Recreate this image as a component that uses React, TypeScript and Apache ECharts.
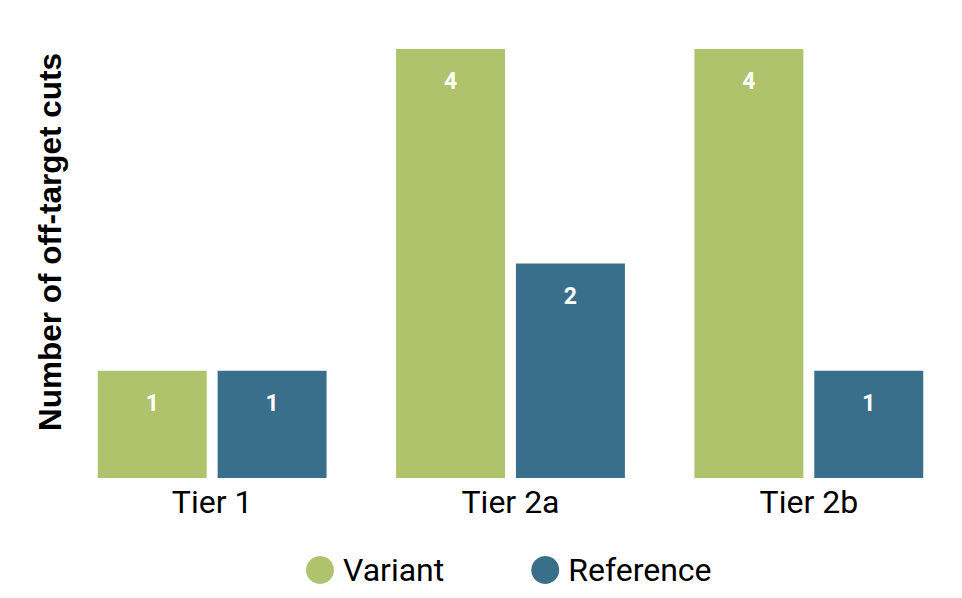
import React, { useEffect, useRef } from "react";
import * as echarts from "echarts";

const categories = ["Tier 1", "Tier 2a", "Tier 2b"];
const variantValues = [1, 4, 4];
const referenceValues = [1, 2, 1];
const seriesNames = ["Variant", "Reference"];
const yAxisTitle = "Number of off-target cuts";

const GREEN = "#AFC36D";
const BLUE = "#3A6F8C";

export default function App() {
  const ref = useRef<HTMLDivElement>(null);
  useEffect(() => {
    if (!ref.current) return;
    const chart = echarts.init(ref.current, null, { renderer: "svg" });
    const labelStyle = {
      show: true,
      position: "insideTop",
      distance: 21,
      color: "#ffffff",
      fontFamily: "Roboto",
      fontWeight: "bold",
      fontSize: 23,
    };
    chart.setOption({
      animation: false,
      backgroundColor: "#ffffff",
      grid: { left: 63, right: 4, top: 49, bottom: 120, containLabel: false },
      legend: {
        data: seriesNames,
        left: 306,
        top: 554,
        padding: 0,
        icon: "circle",
        itemWidth: 28,
        itemHeight: 28,
        itemGap: 87,
        textStyle: { fontFamily: "Roboto", fontSize: 32, color: "#000000", padding: [0, 0, 0, 4] },
      },
      graphic: [
        {
          type: "text",
          x: 50,
          y: 242,
          rotation: Math.PI / 2,
          style: {
            text: yAxisTitle,
            fontFamily: "Liberation Sans, Arial, sans-serif",
            fontWeight: "bold",
            fontSize: 31.5,
            fill: "#000000",
            textAlign: "center",
            textVerticalAlign: "middle",
          },
        },
      ],
      xAxis: {
        type: "category",
        data: categories,
        axisLine: { show: false },
        axisTick: { show: false },
        axisLabel: { margin: 8, fontFamily: "Roboto", fontSize: 32, color: "#000000" },
      },
      yAxis: {
        type: "value",
        min: 0,
        max: 4,
        show: false,
        splitLine: { show: false },
      },
      series: [
        {
          name: seriesNames[0],
          type: "bar",
          data: variantValues,
          barGap: "10%",
          barCategoryGap: "23.3%",
          itemStyle: { color: GREEN },
          label: labelStyle,
        },
        {
          name: seriesNames[1],
          type: "bar",
          data: referenceValues,
          barGap: "10%",
          barCategoryGap: "23.3%",
          itemStyle: { color: BLUE },
          label: labelStyle,
        },
      ],
    });
    return () => chart.dispose();
  }, []);
  return (
    <div
      ref={ref}
      style={{ position: "fixed", left: 0, top: 0, width: 962, height: 598 }}
    />
  );
}
